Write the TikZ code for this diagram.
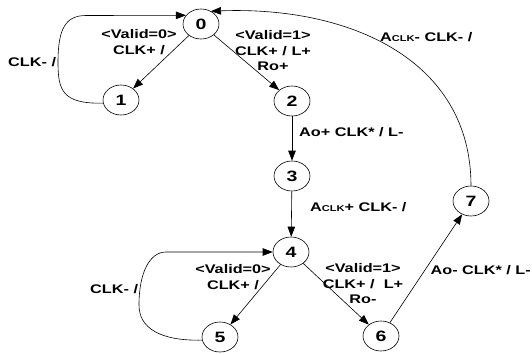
\documentclass[tikz,border=0pt]{standalone}
\usepackage{fontspec}
\setmainfont[FakeStretch=1.3]{Liberation Sans}
\usepackage{tikz}
\usetikzlibrary{shapes.geometric, arrows.meta, positioning, calc}

\begin{document}
\begin{tikzpicture}[
  x=1pt, y=-1pt,
  state/.style={draw, ellipse, minimum width=36pt, minimum height=30pt,
                inner sep=0pt, font=\fontsize{15}{15}\selectfont\bfseries, line width=0.6pt},
  lbl/.style={inner sep=0pt, align=center, font=\fontsize{12.5}{15.5}\selectfont\bfseries},
  arr/.style={-{Triangle[length=10pt, width=7.5pt]}, line width=0.6pt, color=black},
]
  \useasboundingbox (0,0) rectangle (532,354);

  % ── States ──
  \node[state] (s0) at (201, 24) {0};
  \node[state] (s1) at (121,100) {1};
  \node[state] (s2) at (292,101) {2};
  \node[state] (s3) at (292,176) {3};
  \node[state] (s4) at (291,252) {4};
  \node[state] (s5) at (220,337) {5};
  \node[state] (s6) at (381,336) {6};
  \node[state] (s7) at (471,201) {7};

  % ══ Transitions ══

  % upper half
  \draw[arr] (s0) -- (s1);
  \draw[arr] (s0) -- (s2);
  \draw[arr] (s2) -- (s3);
  \draw[arr] (s3) -- (s4);
  \draw[arr] (s1.190) .. controls (62,104) and (58,90) .. (58,62)
                      .. controls (58,28) and (66,15.5) .. (86,15.5) -- (s0.150);

  % lower half
  \draw[arr] (s4) -- (s5);
  \draw[arr] (s4) -- (s6);
  \draw[arr] (s6) -- (s7);
  \draw[arr] (s5.190) .. controls (160,341) and (139,328) .. (139,305)
                      .. controls (139,272) and (150,252) .. (166,252) -- (s4.west);

  % back to 0
  \draw[arr] (s7.north) .. controls (471,60) and (350,6) .. (s0.52);

  % ── Labels ──
  \node[lbl] (t01) at (139,42) {<Valid=0>\\CLK+ /};
  \node[lbl, anchor=west] (t10) at (8,62) {CLK- /};
  \node[lbl] (t02) at (273,51) {<Valid=1>\\CLK+ / L+\\Ro+};
  \node[lbl, anchor=west] (t70) at (380,37) {A{\fontsize{8.5}{8.5}\selectfont CLK}- CLK- /};
  \node[lbl, anchor=west] (t23) at (299,132) {Ao+ CLK* / L-};
  \node[lbl, anchor=west] (t34) at (310,207) {A{\fontsize{8.5}{8.5}\selectfont CLK}+ CLK- /};
  \node[lbl] (t45) at (233,277) {<Valid=0>\\CLK+ /};
  \node[lbl, anchor=west] (t54) at (90,289) {CLK- /};
  \node[lbl] (t46) at (363,284) {<Valid=1>\\CLK+ /~ L+\\Ro-};
  \node[lbl, anchor=east] (t67) at (531,270) {Ao- CLK* / L-};

\end{tikzpicture}
\end{document}
